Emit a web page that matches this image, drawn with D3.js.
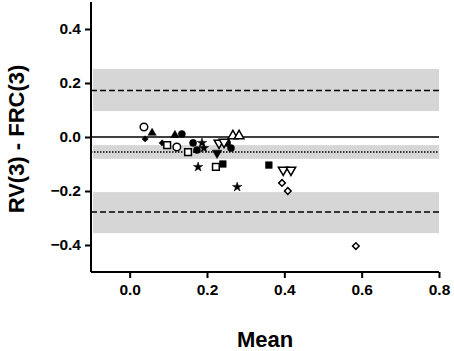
<!DOCTYPE html>
<html>
<head>
<meta charset="utf-8">
<script src="https://cdn.jsdelivr.net/npm/d3@7"></script>
<style>
  body { margin: 0; background: #fff; }
  text { font-family: "Liberation Sans", Arial, sans-serif; font-weight: bold; }
</style>
</head>
<body>
<div id="chart"></div>
<script>
// data: [mean, difference]
var openCircle   = [[0.037, 0.037], [0.122, -0.037]];
var filledDiamond = [[0.040, -0.007], [0.084, -0.022]];
var filledTri    = [[0.058, 0.015], [0.117, 0.007]];
var filledCircle = [[0.135, 0.011], [0.164, -0.022], [0.174, -0.048], [0.252, -0.022], [0.262, -0.041]];
var openSquare   = [[0.097, -0.030], [0.151, -0.056], [0.223, -0.111]];
var filledSquare = [[0.241, -0.100], [0.360, -0.104]];
var stars        = [[0.187, -0.022], [0.192, -0.041], [0.177, -0.111], [0.278, -0.185]];
var openTriDown  = [[0.231, -0.022], [0.244, -0.019], [0.397, -0.122], [0.417, -0.122]];
var filledTriDown = [[0.226, -0.059]];
var openDiamond  = [[0.394, -0.170], [0.409, -0.200], [0.585, -0.404]];
var openTriUp    = [[0.267, 0.004], [0.283, 0.004]];

var bias = -0.056, upperLoA = 0.172, lowerLoA = -0.278;
var biasBand = [-0.081, -0.030], upperBand = [0.096, 0.252], lowerBand = [-0.356, -0.204];

var xTicks = [0, 0.2, 0.4, 0.6, 0.8];
var yTicks = [-0.4, -0.2, 0, 0.2, 0.4];

var margin = {top: 2, right: 15, bottom: 79, left: 91},
    width = 454 - margin.left - margin.right,
    height = 351 - margin.top - margin.bottom;

var svg = d3.select("#chart")
    .append("svg")
    .attr("width", 454)
    .attr("height", 351)
    .append("g")
    .attr("transform", "translate(" + margin.left + "," + margin.top + ")");

var x = d3.scaleLinear().domain([-0.1, 0.8]).range([0, 348]);
var y = d3.scaleLinear().domain([-0.5, 0.5]).range([height, 0]);

// grey bands
[upperBand, biasBand, lowerBand].forEach(function(b) {
    svg.append("rect")
        .attr("x", x(-0.095))
        .attr("width", x(0.8) - x(-0.095))
        .attr("y", y(b[1]))
        .attr("height", y(b[0]) - y(b[1]))
        .attr("fill", "#d6d6d6");
});

// reference lines
function hline(v, dash, w) {
    svg.append("line")
        .attr("x1", 0).attr("x2", x(0.8))
        .attr("y1", y(v)).attr("y2", y(v))
        .attr("stroke", "#000")
        .attr("stroke-width", w)
        .attr("stroke-dasharray", dash);
}
hline(0, null, 1.5);
hline(upperLoA, "6,3", 1.5);
hline(lowerLoA, "6,3", 1.5);
hline(bias, "1.5,1.5", 1.5);

// axes
var xAxis = svg.append("g")
    .attr("transform", "translate(0," + height + ")")
    .call(d3.axisBottom(x).tickValues(xTicks).tickFormat(d3.format(".1f")).tickSizeOuter(0).tickSize(6).tickPadding(6));
var yAxis = svg.append("g")
    .call(d3.axisLeft(y).tickValues(yTicks).tickFormat(d3.format(".1f")).tickSizeOuter(0).tickSize(6).tickPadding(4));
[xAxis, yAxis].forEach(function(a) {
    a.select(".domain").attr("stroke-width", 2);
    a.selectAll(".tick line").attr("stroke-width", 2);
    a.selectAll(".tick text").attr("font-size", 15.5).attr("font-family", "Liberation Sans, Arial, sans-serif").attr("font-weight", "bold").attr("fill", "#000");
});
xAxis.select(".domain").attr("d", "M0,0H" + x(0.8));
yAxis.select(".domain").attr("d", "M0," + height + "V0");

// axis titles
svg.append("text")
    .attr("x", x(0.35))
    .attr("y", 345)
    .attr("text-anchor", "middle")
    .attr("font-size", 22)
    .text("Mean");
svg.append("text")
    .attr("transform", "rotate(-90)")
    .attr("x", -(y(0) + 2))
    .attr("y", -67)
    .attr("text-anchor", "middle")
    .attr("font-size", 22)
    .text("RV(3) - FRC(3)");

// markers
function addPoints(data, type, size, fill, rot) {
    svg.append("g")
        .selectAll("path")
        .data(data)
        .enter()
        .append("path")
            .attr("d", d3.symbol().type(type).size(size))
            .attr("transform", function(d) {
                return "translate(" + x(d[0]) + "," + y(d[1]) + ") rotate(" + (rot || 0) + ")";
            })
            .attr("fill", fill ? "#000" : "#fff")
            .attr("stroke", "#000")
            .attr("stroke-width", fill ? 0.5 : 1.5);
}
addPoints(openCircle, d3.symbolCircle, 45, false);
addPoints(filledDiamond, d3.symbolSquare, 20, true, 45);
addPoints(filledTri, d3.symbolTriangle, 30, true);
addPoints(filledCircle, d3.symbolCircle, 40, true);
addPoints(openSquare, d3.symbolSquare, 45, false);
addPoints(filledSquare, d3.symbolSquare, 45, true);
addPoints(stars, d3.symbolStar, 28, true);
addPoints(openTriDown, d3.symbolTriangle, 40, false, 180);
addPoints(filledTriDown, d3.symbolTriangle, 40, true, 180);
addPoints(openDiamond, d3.symbolSquare, 22, false, 45);
addPoints(openTriUp, d3.symbolTriangle, 40, false);
</script>
</body>
</html>
